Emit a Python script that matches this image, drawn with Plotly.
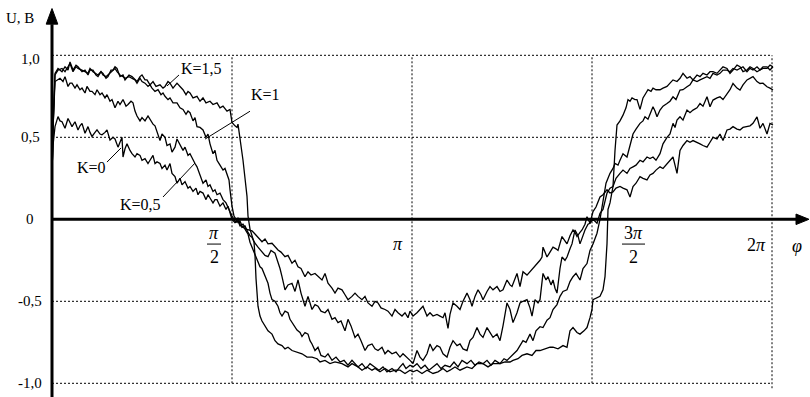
import plotly.graph_objects as go

# phi in degrees (0..360 = 0..2*pi), U in volts
K15 = [(0,0.25),(0.5,0.55),(1.5,0.89),(3,0.92),(5,0.90),(6.5,0.93),(8,0.91),(9,0.96),(10.5,0.91),(12,0.94),(13,0.93),(15,0.90),(16.5,0.91),(18,0.88),(19,0.91),(20.5,0.91),(22,0.88),(23,0.87),(24.5,0.90),(25.5,0.89),(27,0.86),(28,0.87),(29.5,0.91),(30.5,0.91),(31.5,0.93),(32.5,0.92),(34,0.87),(35.5,0.88),(36.5,0.85),(38.5,0.88),(40,0.87),(41.5,0.85),(42.5,0.84),(44,0.87),(45,0.88),(46.5,0.85),(47.5,0.85),(49,0.82),(50.5,0.84),(52,0.81),(54,0.82),(55.5,0.80),(56.5,0.81),(58,0.84),(59,0.83),(60.5,0.80),(62.5,0.83),(64,0.81),(65.5,0.79),(67,0.76),(68,0.78),(69,0.77),(70.5,0.74),(72.5,0.75),(74,0.72),(75.5,0.74),(77,0.71),(79,0.72),(80.5,0.70),(82.5,0.71),(84,0.68),(85.5,0.69),(87.5,0.66),(89,0.67),(90,0.59),(91.5,0.57),(92.5,0.56),(93,0.58),(94,0.50),(95.5,0.36),(96.5,0.25),(97.5,0.14),(98,0.02),(99,-0.06),(100,-0.10),(101,-0.14),(101.5,-0.22),(102,-0.36),(103,-0.53),(104,-0.59),(105,-0.62),(106.5,-0.65),(108,-0.68),(110,-0.70),(111.5,-0.74),(113,-0.76),(115,-0.77),(116.5,-0.79),(118,-0.78),(120,-0.80),(122.5,-0.81),(125,-0.82),(127.5,-0.84),(130,-0.84),(132.5,-0.85),(134,-0.87),(136.5,-0.86),(139,-0.88),(141.5,-0.87),(145,-0.88),(148,-0.90),(150,-0.88),(153,-0.90),(155,-0.92),(157.5,-0.90),(160,-0.92),(161.5,-0.91),(164,-0.93),(166.5,-0.91),(169,-0.93),(171.5,-0.92),(174,-0.92),(176.5,-0.94),(179,-0.92),(180.5,-0.93),(182.5,-0.92),(185,-0.94),(187.5,-0.92),(190.5,-0.94),(193,-0.93),(195.5,-0.91),(197.5,-0.93),(199,-0.92),(201.5,-0.90),(204,-0.92),(207.5,-0.90),(210,-0.91),(212.5,-0.88),(215.5,-0.88),(218,-0.90),(220.5,-0.88),(224,-0.88),(226.5,-0.87),(229,-0.87),(230.5,-0.86),(233,-0.85),(235,-0.83),(237.5,-0.82),(240,-0.83),(242,-0.80),(244,-0.80),(246.5,-0.79),(249,-0.78),(250.5,-0.78),(253,-0.79),(255.5,-0.77),(257.5,-0.78),(259,-0.68),(260.5,-0.66),(262.5,-0.69),(264,-0.70),(266,-0.68),(267.5,-0.66),(269,-0.60),(270,-0.55),(270.5,-0.49),(272.5,-0.48),(274,-0.47),(275.5,-0.43),(276.5,-0.35),(277.5,-0.15),(278,0.06),(279,0.10),(280.5,0.20),(281.5,0.42),(282.5,0.575),(284,0.60),(285.5,0.635),(287,0.68),(288,0.73),(289,0.72),(290,0.74),(291.5,0.73),(292.5,0.73),(294,0.67),(295.5,0.74),(297,0.77),(298,0.79),(299.5,0.78),(300.5,0.80),(302,0.79),(304,0.79),(305.5,0.80),(307.5,0.81),(309,0.83),(310.5,0.85),(312.5,0.84),(314,0.86),(315.5,0.89),(317.5,0.86),(319,0.87),(320.5,0.85),(322.5,0.88),(324,0.87),(325.5,0.89),(327.5,0.88),(329,0.90),(330.5,0.90),(332.5,0.89),(334,0.91),(335.5,0.93),(337.5,0.92),(339,0.89),(340.5,0.91),(342.5,0.94),(344,0.93),(345.5,0.90),(347.5,0.91),(349,0.93),(350.5,0.92),(352.5,0.90),(354,0.91),(355.5,0.93),(357.5,0.93),(359,0.91),(360.5,0.93)]

K10 = [(0,0.25),(0.5,0.55),(1.5,0.88),(3,0.91),(5,0.92),(6.5,0.90),(8,0.93),(9,0.95),(10.5,0.90),(12,0.93),(13,0.92),(15,0.91),(16.5,0.90),(18,0.89),(19,0.92),(20.5,0.90),(22,0.89),(23,0.88),(24.5,0.90),(25.5,0.88),(27,0.87),(28,0.88),(29.5,0.90),(30.5,0.91),(31.5,0.92),(32.5,0.90),(34,0.88),(35.5,0.87),(36.5,0.86),(38.5,0.87),(40,0.86),(41.5,0.85),(42.5,0.83),(44,0.86),(45,0.84),(46.5,0.83),(48,0.81),(49,0.82),(50,0.80),(51.5,0.78),(53,0.79),(54.5,0.76),(55.5,0.77),(56.5,0.75),(58,0.73),(59,0.74),(60.5,0.71),(62.5,0.71),(64,0.68),(65.5,0.67),(67,0.64),(68,0.66),(69,0.65),(70.5,0.60),(71.5,0.62),(72.5,0.565),(74,0.56),(75.5,0.545),(77,0.50),(78,0.52),(79,0.46),(80.5,0.40),(81.5,0.42),(82.5,0.36),(84,0.33),(85.5,0.30),(86.5,0.31),(87.5,0.28),(88.5,0.24),(89,0.18),(90,0.08),(91,0.02),(92,0.00),(93,-0.02),(94,-0.01),(95,-0.04),(96.5,-0.06),(98,-0.09),(99,-0.14),(100,-0.17),(101.5,-0.21),(103,-0.25),(104,-0.29),(105,-0.30),(106.5,-0.35),(108,-0.39),(109,-0.45),(110,-0.49),(111.5,-0.50),(113,-0.53),(114,-0.57),(115,-0.59),(116.5,-0.56),(118,-0.57),(119,-0.61),(120,-0.63),(121.5,-0.66),(122.5,-0.675),(124,-0.69),(125,-0.715),(126.5,-0.69),(128,-0.70),(129,-0.74),(130,-0.76),(131.5,-0.80),(133,-0.78),(134.5,-0.83),(136.5,-0.84),(138,-0.82),(140,-0.86),(142,-0.84),(144,-0.87),(146,-0.86),(148,-0.89),(150,-0.86),(151.5,-0.88),(153,-0.90),(155,-0.88),(157,-0.91),(159,-0.88),(161.5,-0.90),(163.5,-0.92),(165.5,-0.90),(167.5,-0.93),(170,-0.91),(172,-0.93),(174,-0.90),(175.5,-0.88),(177,-0.91),(179,-0.89),(180.5,-0.90),(182.5,-0.88),(184.5,-0.91),(186.5,-0.89),(188.5,-0.92),(190.5,-0.90),(192.5,-0.88),(194.5,-0.91),(196.5,-0.89),(199,-0.90),(201,-0.87),(203,-0.90),(205,-0.86),(207.5,-0.88),(209.5,-0.86),(211.5,-0.89),(213.5,-0.87),(215.5,-0.88),(217.5,-0.86),(219.5,-0.89),(221.5,-0.86),(224,-0.88),(226,-0.85),(227.5,-0.86),(229,-0.84),(230.5,-0.82),(232.5,-0.80),(234,-0.77),(235.5,-0.74),(237,-0.75),(239,-0.70),(240.5,-0.74),(242,-0.68),(244,-0.655),(245.5,-0.66),(247.5,-0.615),(249,-0.60),(250.5,-0.55),(252.5,-0.52),(254,-0.47),(255.5,-0.44),(257.5,-0.43),(259,-0.38),(260.5,-0.35),(262,-0.33),(264,-0.37),(265.5,-0.30),(267.5,-0.27),(269,-0.19),(270.5,-0.15),(272.5,-0.085),(274,0.00),(275.5,0.12),(277,0.22),(279,0.28),(280.5,0.31),(281.5,0.34),(283,0.33),(284,0.36),(285.5,0.40),(287.5,0.38),(289,0.46),(290.5,0.52),(292,0.55),(294,0.585),(295.5,0.60),(296.5,0.625),(298,0.61),(299,0.645),(300.5,0.686),(301.5,0.66),(302.5,0.625),(304,0.666),(305.5,0.69),(307.5,0.706),(309,0.72),(310.5,0.747),(312,0.73),(314,0.788),(315.5,0.79),(317.5,0.808),(319,0.82),(320.5,0.85),(322.5,0.84),(324,0.85),(325.5,0.86),(327.5,0.87),(329,0.86),(330.5,0.89),(332.5,0.88),(334,0.89),(335.5,0.91),(337.5,0.91),(339,0.90),(340.5,0.92),(342.5,0.91),(344,0.92),(345.5,0.93),(347.5,0.90),(349,0.92),(350.5,0.91),(352.5,0.93),(354,0.91),(355.5,0.92),(357.5,0.92),(359,0.94),(360.5,0.93)]

K05 = [(0,0.25),(0.5,0.55),(1.5,0.84),(3,0.85),(4,0.86),(5.5,0.84),(6.5,0.87),(8,0.81),(9,0.83),(10,0.83),(11.5,0.80),(12.5,0.82),(14,0.79),(15,0.80),(16.5,0.77),(17.5,0.81),(19,0.78),(20,0.78),(21.5,0.76),(22.5,0.79),(24,0.76),(25,0.77),(26.5,0.74),(27.5,0.76),(29,0.72),(30,0.73),(31.5,0.68),(33,0.72),(34,0.70),(35.5,0.73),(37,0.69),(38,0.70),(39.5,0.72),(40.5,0.71),(41.5,0.66),(42.5,0.63),(44,0.60),(45,0.62),(46.5,0.60),(48,0.63),(49,0.61),(50.5,0.58),(51.5,0.57),(52.5,0.53),(54,0.48),(55,0.52),(56.5,0.50),(57.5,0.45),(59,0.46),(60,0.41),(61.5,0.44),(62.5,0.49),(64,0.45),(65.5,0.42),(66.5,0.44),(68,0.39),(69,0.40),(70.5,0.36),(71.5,0.34),(72.5,0.32),(74,0.27),(75.5,0.22),(77,0.24),(78,0.20),(79,0.21),(80.5,0.17),(81.5,0.18),(82.5,0.15),(84,0.16),(85.5,0.12),(87,0.10),(88,0.07),(89,0.05),(90,0.02),(91,0.00),(92,-0.02),(93,0.01),(94,-0.03),(95,-0.05),(96.5,-0.04),(98,-0.08),(99,-0.10),(100,-0.11),(101.5,-0.146),(103,-0.17),(105,-0.20),(106.5,-0.22),(108,-0.228),(109.5,-0.19),(111.5,-0.207),(113,-0.26),(114,-0.30),(115,-0.35),(116.5,-0.43),(118,-0.40),(120,-0.39),(121.5,-0.44),(123,-0.37),(124.5,-0.45),(126.5,-0.53),(128,-0.47),(130,-0.55),(131.5,-0.52),(133,-0.53),(134.5,-0.56),(136.5,-0.57),(138,-0.55),(140,-0.61),(141.5,-0.60),(143,-0.63),(144.5,-0.62),(146.5,-0.68),(148,-0.61),(149.5,-0.65),(151.5,-0.72),(153,-0.70),(154.5,-0.74),(156.5,-0.80),(158,-0.77),(160,-0.76),(161.5,-0.79),(163,-0.80),(165,-0.78),(166.5,-0.82),(168,-0.80),(170,-0.82),(172,-0.81),(174,-0.84),(175.5,-0.82),(177.5,-0.84),(179,-0.86),(180.5,-0.88),(182.5,-0.80),(184,-0.84),(185.5,-0.86),(187.5,-0.82),(189,-0.76),(190.5,-0.80),(192.5,-0.77),(194,-0.78),(195.5,-0.82),(197.5,-0.84),(199,-0.78),(200.5,-0.74),(202.5,-0.77),(204,-0.76),(205.5,-0.79),(207.5,-0.80),(209,-0.74),(210.5,-0.72),(212.5,-0.66),(214,-0.70),(215.5,-0.72),(217.5,-0.66),(219,-0.69),(220.5,-0.72),(222.5,-0.70),(224,-0.74),(225.5,-0.65),(227.5,-0.51),(229,-0.55),(230.5,-0.63),(232.5,-0.57),(234,-0.51),(235.5,-0.50),(237.5,-0.49),(239,-0.54),(240,-0.59),(241.5,-0.49),(243,-0.51),(244,-0.49),(245.5,-0.33),(247,-0.37),(248,-0.35),(249.5,-0.40),(250.5,-0.37),(251.5,-0.42),(252.5,-0.45),(254,-0.30),(255,-0.23),(256.5,-0.25),(257.5,-0.23),(259,-0.18),(260,-0.15),(261.5,-0.065),(263,-0.10),(264,-0.15),(265.5,-0.09),(266.5,-0.065),(268,-0.03),(269,-0.024),(270.5,0.00),(272.5,-0.024),(274,0.037),(275.5,0.06),(277.5,0.16),(279,0.19),(280.5,0.20),(282,0.25),(284,0.28),(285.5,0.30),(287.5,0.28),(289,0.31),(290.5,0.32),(292,0.33),(294,0.36),(295.5,0.35),(297.5,0.38),(299,0.37),(300.5,0.38),(302,0.36),(304,0.40),(305.5,0.46),(307.5,0.50),(309,0.52),(310.5,0.585),(311.5,0.56),(312.5,0.605),(314,0.625),(315.5,0.605),(316.5,0.64),(317.5,0.666),(319,0.65),(320.5,0.666),(322.5,0.68),(324,0.706),(325.5,0.69),(327.5,0.747),(329,0.686),(330.5,0.727),(332.5,0.74),(334,0.747),(335.5,0.73),(337.5,0.767),(339,0.79),(340.5,0.828),(342.5,0.80),(344,0.788),(345.5,0.82),(347.5,0.85),(349,0.86),(350.5,0.87),(352.5,0.84),(354,0.828),(355.5,0.83),(357.5,0.808),(359,0.80),(360.5,0.788)]

K00 = [(0,0.30),(0.5,0.45),(1.5,0.565),(3,0.626),(4,0.60),(5,0.595),(6.5,0.555),(8,0.615),(9,0.59),(10,0.565),(11.5,0.595),(13,0.545),(14,0.57),(15,0.585),(16.5,0.525),(18,0.565),(19,0.53),(20,0.505),(21.5,0.53),(22.5,0.545),(24,0.52),(25,0.515),(26.5,0.53),(27.5,0.545),(29,0.483),(30.5,0.50),(31.5,0.49),(33,0.44),(35,0.50),(35.5,0.38),(36.5,0.43),(37.5,0.46),(39,0.42),(40,0.40),(41.5,0.38),(42.5,0.40),(44,0.39),(45,0.36),(46.5,0.37),(48,0.34),(49,0.36),(50.5,0.39),(51.5,0.34),(52.5,0.35),(54,0.34),(55,0.31),(56.5,0.33),(57.5,0.30),(59,0.34),(60,0.28),(61.5,0.26),(62.5,0.22),(64,0.25),(65,0.21),(66.5,0.23),(68,0.19),(69,0.20),(70.5,0.17),(72,0.19),(73,0.15),(74,0.17),(75.5,0.16),(77,0.12),(78,0.15),(79,0.13),(80.5,0.10),(81.5,0.12),(82.5,0.12),(84,0.08),(85.5,0.10),(87,0.06),(88,0.08),(89,0.04),(90,0.00),(91.5,-0.02),(93,-0.01),(94,-0.04),(95.5,-0.03),(97,-0.06),(99,-0.065),(100,-0.07),(101.5,-0.09),(103,-0.11),(105,-0.137),(106.5,-0.12),(108,-0.15),(110,-0.146),(111.5,-0.17),(113,-0.187),(114.5,-0.20),(116.5,-0.228),(118,-0.22),(120,-0.268),(121.5,-0.25),(123,-0.289),(124.5,-0.30),(126.5,-0.35),(128,-0.32),(129.5,-0.34),(131.5,-0.33),(133,-0.35),(135,-0.37),(136.5,-0.33),(138,-0.39),(140,-0.42),(141.5,-0.45),(143,-0.42),(145,-0.43),(146.5,-0.46),(148,-0.49),(150,-0.47),(151.5,-0.45),(153,-0.47),(155,-0.49),(156.5,-0.47),(158,-0.51),(160,-0.53),(161.5,-0.50),(163,-0.51),(164.5,-0.54),(166.5,-0.55),(168,-0.56),(170,-0.59),(171.5,-0.55),(173,-0.57),(175,-0.59),(176.5,-0.57),(178,-0.60),(179,-0.56),(180.5,-0.59),(182.5,-0.57),(184,-0.55),(185.5,-0.53),(187.5,-0.59),(189,-0.57),(190.5,-0.59),(192.5,-0.58),(194,-0.59),(195.5,-0.60),(196.5,-0.57),(198,-0.665),(199,-0.58),(200.5,-0.51),(202.5,-0.53),(204,-0.55),(205.5,-0.50),(207.5,-0.45),(209,-0.49),(210,-0.53),(211.5,-0.47),(213,-0.43),(214.5,-0.46),(215.5,-0.49),(217.5,-0.44),(219,-0.41),(220.5,-0.43),(222.5,-0.41),(224,-0.44),(225.5,-0.43),(227.5,-0.37),(229,-0.40),(230,-0.41),(231.5,-0.36),(232.5,-0.33),(234,-0.41),(235.5,-0.32),(237.5,-0.34),(239,-0.32),(240.5,-0.30),(242.5,-0.27),(244,-0.25),(245,-0.23),(245.5,-0.17),(246.5,-0.20),(247.5,-0.23),(249,-0.20),(250.5,-0.17),(252,-0.18),(253,-0.19),(255,-0.105),(256.5,-0.13),(257.5,-0.15),(259,-0.10),(260.5,-0.065),(261.5,-0.08),(262.5,-0.105),(264,-0.08),(265,-0.065),(266.5,-0.03),(267.5,0.016),(269,-0.024),(270.5,0.047),(272,0.075),(274,0.136),(275.5,0.15),(277.5,0.18),(279,0.16),(280.5,0.167),(282,0.19),(284,0.20),(285.5,0.19),(287.5,0.18),(289,0.136),(290.5,0.20),(292,0.22),(294,0.26),(295.5,0.25),(297.5,0.24),(299,0.27),(300.5,0.28),(302,0.30),(304,0.32),(305.5,0.31),(307.5,0.34),(309,0.36),(310.5,0.38),(311.5,0.33),(312.5,0.28),(314,0.42),(315.5,0.45),(317.5,0.48),(319,0.47),(320.5,0.48),(322.5,0.47),(324,0.46),(325.5,0.45),(327.5,0.44),(329,0.47),(330.5,0.50),(332.5,0.49),(334,0.52),(335.5,0.48),(337.5,0.545),(339,0.55),(340.5,0.565),(342.5,0.55),(344,0.545),(345.5,0.56),(347.5,0.565),(349,0.57),(350.5,0.585),(352.5,0.625),(354,0.555),(355.5,0.585),(357.5,0.52),(359,0.585),(360.5,0.575)]

SERIES = [("K=1,5", K15), ("K=1", K10), ("K=0,5", K05), ("K=0", K00)]

Y_GRID = [1.0, 0.5, -0.5, -1.0]
Y_TICK_VALS = [1.0, 0.5, 0.0, -0.5, -1.0]
Y_TICK_TEXT = ["1,0", "0,5", "0", "-0,5", "-1,0"]
X_GRID = [90, 180, 270, 360]

FONT = "Liberation Serif, Times New Roman, serif"
BLACK = "#000000"

fig = go.Figure()
for name, pts in SERIES:
    fig.add_trace(go.Scatter(
        x=[p[0] for p in pts], y=[p[1] for p in pts], mode="lines", name=name,
        line=dict(color=BLACK, width=1.3), showlegend=False, hoverinfo="skip"))

shapes = []
dot = "2px,2px"
for yv in Y_GRID:
    shapes.append(dict(type="line", xref="x", yref="y", x0=0, x1=360, y0=yv, y1=yv,
                       line=dict(color=BLACK, width=1, dash=dot), layer="below"))
for xv in X_GRID:
    shapes.append(dict(type="line", xref="x", yref="y", x0=xv, x1=xv, y0=-1.0 if xv < 360 else -1.03, y1=1.0,
                       line=dict(color=BLACK, width=1, dash=dot), layer="below"))
# axes with arrows
shapes.append(dict(type="line", xref="x", yref="y", x0=0, x1=373, y0=0, y1=0, line=dict(color=BLACK, width=3)))
shapes.append(dict(type="path", xref="x", yref="y", path="M 372,0.032 L 378.5,0 L 372,-0.032 Z",
                   fillcolor=BLACK, line=dict(color=BLACK, width=1)))
shapes.append(dict(type="line", xref="x", yref="y", x0=0, x1=0, y0=-1.09, y1=1.19, line=dict(color=BLACK, width=3)))
shapes.append(dict(type="path", xref="x", yref="y", path="M -2.9,1.19 L 0,1.285 L 2.9,1.19 Z",
                   fillcolor=BLACK, line=dict(color=BLACK, width=1)))
# fraction bars
shapes.append(dict(type="line", xref="x", yref="y", x0=77.5, x1=84.5, y0=-0.151, y1=-0.151, line=dict(color=BLACK, width=1)))
shapes.append(dict(type="line", xref="x", yref="y", x0=285, x1=296.5, y0=-0.151, y1=-0.151, line=dict(color=BLACK, width=1)))
# label pointers
POINTERS = [((63.5, 0.880), (57.5, 0.813)), ((99, 0.659), (76.5, 0.489)),
            ((27.5, 0.349), (34.5, 0.435)), ((55.5, 0.136), (71.5, 0.343))]
for (a, b) in POINTERS:
    shapes.append(dict(type="line", xref="x", yref="y", x0=a[0], y0=a[1], x1=b[0], y1=b[1],
                       line=dict(color=BLACK, width=1)))

ann = []
def txt(x, y, t, size=15):
    ann.append(dict(x=x, y=y, xref="x", yref="y", text=t, showarrow=False, xanchor="center", yanchor="middle",
                    font=dict(family=FONT, size=size, color=BLACK)))

txt(-16, 1.227, "U, B")
for v, t in zip(Y_TICK_VALS, Y_TICK_TEXT):
    txt(-11, v - (0.02 if v == 1.0 else 0), t)
txt(81, -0.085, "<i>π</i>", 18)
txt(81, -0.227, "2", 18)
txt(173, -0.15, "<i>π</i>", 18)
txt(290.5, -0.085, "3<i>π</i>", 18)
txt(290.5, -0.227, "2", 18)
txt(352, -0.157, "2<i>π</i>", 18)
txt(372.5, -0.163, "<i>φ</i>", 18)
CURVE_LABELS = [("K=1,5", 74.5, 0.922), ("K=1", 106.5, 0.764), ("K=0", 19.5, 0.313), ("K=0,5", 44, 0.093)]
for t, x, y in CURVE_LABELS:
    txt(x, y, t, 16)

fig.update_layout(
    width=810, height=397, margin=dict(l=0, r=0, t=0, b=0),
    paper_bgcolor="white", plot_bgcolor="white",
    xaxis=dict(visible=False, range=[-26, 379], fixedrange=True),
    yaxis=dict(visible=False, range=[-1.0835, 1.3372], fixedrange=True),
    shapes=shapes, annotations=ann,
)
fig.write_html("out.html", config={"displayModeBar": False},
               post_script="document.body.style.margin='0px';document.body.style.padding='0px';")
